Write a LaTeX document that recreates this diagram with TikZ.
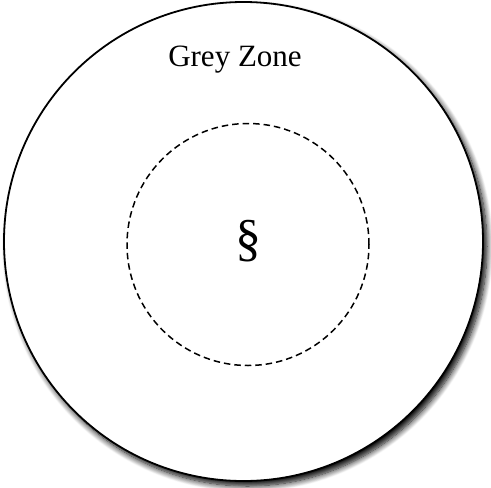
\documentclass[tikz,border=0pt]{standalone}
\usepackage{fontspec}
\setmainfont{Liberation Serif}
\usepackage{tikz}
\usetikzlibrary{positioning, shadows, shadows.blur}
\tikzset{
  % Outer zone disc
  zonedisc/.style={
    circle, draw=black, fill=white, line width=1.8pt,
    minimum size=479pt, inner sep=0pt,
    blur shadow={shadow xshift=4pt, shadow yshift=-5pt,
      shadow blur radius=6pt, shadow blur steps=10, shadow opacity=100},
  },
  % Inner dashed ring
  corering/.style={
    circle, draw=black, line width=1.5pt,
    dash pattern=on 6.5pt off 4pt,
    minimum size=242pt, inner sep=0pt,
  },
  % Labels
  zonetitle/.style={font=\fontsize{31}{36}\selectfont, inner sep=0pt},
  coresign/.style={font=\fontsize{52}{58}\selectfont, inner sep=0pt},
}
\begin{document}
\begin{tikzpicture}[x=1pt, y=-1pt]
  \useasboundingbox (0,0) rectangle (491,488);
  % Nodes
  \node[zonedisc] (zone) at (243.5,241.5) {};
  \node[corering] (core) at (248,244.5) {};
  \node[coresign] (sect) at (248,241) {\S};
  \node[zonetitle] (title) at (235,60) {Grey Zone};
\end{tikzpicture}
\end{document}
